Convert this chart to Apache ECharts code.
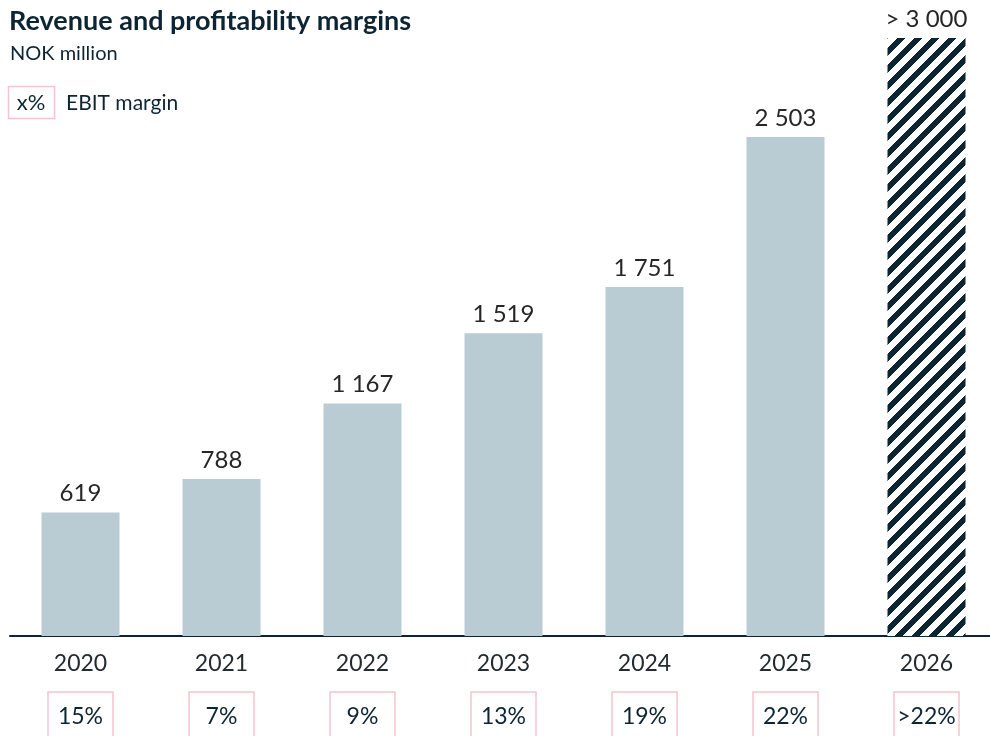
<!DOCTYPE html>
<html>
<head>
<meta charset="utf-8">
<script src="https://cdn.jsdelivr.net/npm/echarts@6/dist/echarts.min.js"></script>
<style>
  html, body { margin: 0; padding: 0; background: #fff; }
  #chart { width: 990px; height: 736px; }
</style>
</head>
<body>
<div id="chart"></div>
<script>
const years = ['2020', '2021', '2022', '2023', '2024', '2025', '2026']
const revenue = [619, 788, 1167, 1519, 1751, 2503, 3000]
const revenueLabels = ['619', '788', '1 167', '1 519', '1 751', '2 503', '> 3 000']
const ebitMargins = ['15%', '7%', '9%', '13%', '19%', '22%', '>22%']
const forecastIndex = 6

const navy = '#0d2533'
const barGrey = '#b9cbd3'
const pink = '#f5c4ce'
const font = 'Lato'

// diagonal hatch tile for the forecast bar, drawn pixel by pixel so it tiles cleanly
function hatchTile() {
  const s = 17
  const w = 8
  const c = document.createElement('canvas')
  c.width = s
  c.height = s
  const ctx = c.getContext('2d')
  const img = ctx.createImageData(s, s)
  for (let y = 0; y < s; y++) {
    for (let x = 0; x < s; x++) {
      const dark = ((x + y) % s) < w
      const i = (y * s + x) * 4
      img.data[i] = dark ? 13 : 255
      img.data[i + 1] = dark ? 37 : 255
      img.data[i + 2] = dark ? 51 : 255
      img.data[i + 3] = 255
    }
  }
  ctx.putImageData(img, 0, 0)
  return c
}

const chart = echarts.init(document.getElementById('chart'))

const option = {
  animation: false,
  textStyle: { fontFamily: font },
  grid: { left: 10, width: 987, top: 38, bottom: 100, outerBoundsMode: 'none', containLabel: false },
  title: [
    {
      text: 'Revenue and profitability margins',
      left: 4, top: 3,
      textStyle: { fontFamily: font, fontSize: 27, fontWeight: 'bold', color: navy },
    },
    {
      text: 'NOK million',
      left: 5, top: 39,
      textStyle: { fontFamily: font, fontSize: 20, fontWeight: 'normal', color: navy },
    },
  ],
  graphic: [
    {
      type: 'rect',
      shape: { x: 8.5, y: 86.5, width: 46, height: 32 },
      style: { fill: '#fff', stroke: pink, lineWidth: 1.5 },
    },
    {
      type: 'text',
      x: 31, y: 103,
      style: { text: 'x%', font: '22px ' + font, fill: navy, textAlign: 'center', textVerticalAlign: 'middle' },
    },
    {
      type: 'text',
      x: 66, y: 103,
      style: { text: 'EBIT margin', font: '21px ' + font, fill: navy, textAlign: 'left', textVerticalAlign: 'middle' },
    },
  ],
  xAxis: [
    {
      type: 'category',
      data: years,
      axisLine: { lineStyle: { color: navy, width: 2 } },
      axisTick: { show: false },
      axisLabel: { fontSize: 23, color: '#222b30', margin: 16 },
    },
    {
      type: 'category',
      data: ebitMargins,
      position: 'bottom',
      axisLine: { show: false },
      axisTick: { show: false },
      axisLabel: {
        margin: 56,
        formatter: v => '{b|' + v + '}',
        rich: {
          b: {
            fontFamily: font, fontSize: 23, color: navy,
            width: 65, height: 50, lineHeight: 50, align: 'center',
            borderColor: pink, borderWidth: 1.5,
          },
        },
      },
    },
  ],
  yAxis: {
    type: 'value',
    min: 0, max: 3000,
    show: false,
    splitLine: { show: false },
  },
  series: [
    {
      type: 'bar',
      barWidth: 78,
      data: revenue.map((v, i) => ({
        value: v,
        itemStyle: i === forecastIndex
          ? { color: { image: hatchTile(), repeat: 'repeat' } }
          : { color: barGrey },
      })),
      label: {
        show: true,
        position: 'top',
        distance: 7,
        fontSize: 24,
        color: '#262626',
        formatter: p => revenueLabels[p.dataIndex],
      },
    },
  ],
}

chart.setOption(option)
window.addEventListener('resize', () => chart.resize())
</script>
</body>
</html>
